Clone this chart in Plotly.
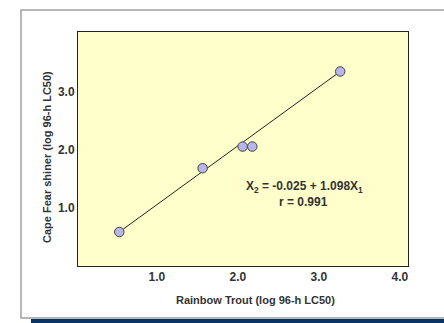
import plotly.graph_objects as go

# Data
trout_x = [0.535, 1.564, 2.058, 2.177, 3.263]
shiner_y = [0.586, 1.684, 2.057, 2.057, 3.35]
fit_x = [0.535, 3.263]
fit_y = [0.586, 3.35]
x_ticks = [1.0, 2.0, 3.0, 4.0]
y_ticks = [1.0, 2.0, 3.0]
x_title = "Rainbow Trout (log 96-h LC50)"
y_title = "Cape Fear shiner (log 96-h LC50)"
eq_text = "X<sub>2</sub> = -0.025 + 1.098X<sub>1</sub>"
r_text = "r = 0.991"

W, H = 444, 323
L, R, T, B = 78, 408, 32, 266
pw, ph = R - L, B - T

def px(x):
    return (x - L) / pw

def py(y):
    return (B - y) / ph

fig = go.Figure()
fig.add_trace(go.Scatter(x=fit_x, y=fit_y, mode="lines",
                         line=dict(color="#222222", width=1), hoverinfo="skip"))
fig.add_trace(go.Scatter(x=trout_x, y=shiner_y, mode="markers",
                         marker=dict(size=9.5, color="#B8B6E6",
                                     line=dict(color="#444444", width=1))))

font = dict(family="Liberation Sans, Arial", color="#333333", size=12)

fig.update_layout(
    width=W, height=H,
    margin=dict(l=L, r=W - R, t=T, b=H - B, pad=0),
    paper_bgcolor="white",
    plot_bgcolor="#FFFFCC",
    showlegend=False,
    font=font,
    xaxis=dict(range=[0.025, 4.1], tickvals=x_ticks,
               ticktext=[f"<b>{v:.1f}</b>" for v in x_ticks],
               showgrid=False, zeroline=False, showline=True, mirror=True,
               linecolor="#222222", linewidth=1, ticks="", ticklen=0,
               tickfont=dict(size=12, color="#333333"), fixedrange=True),
    yaxis=dict(range=[0, 4.03], tickvals=y_ticks,
               ticktext=[f"<b>{v:.1f}</b>" for v in y_ticks],
               showgrid=False, zeroline=False, showline=True, mirror=True,
               linecolor="#222222", linewidth=1, ticks="", ticklen=0,
               tickfont=dict(size=12, color="#333333"), fixedrange=True),
)

# outer frame and navy bar
fig.add_shape(type="rect", xref="paper", yref="paper",
              x0=px(21), x1=px(460), y0=py(318), y1=py(10),
              line=dict(color="#A0A0A0", width=1.5), fillcolor="rgba(0,0,0,0)", layer="below")
fig.add_shape(type="rect", xref="paper", yref="paper",
              x0=px(31), x1=px(460), y0=py(324), y1=py(319),
              line=dict(width=0), fillcolor="#0B3466")

fig.add_annotation(x=px(255), y=py(300), xref="paper", yref="paper",
                   text=f"<b>{x_title}</b>", showarrow=False,
                   font=dict(size=11, color="#333333"), xanchor="center", yanchor="middle")
fig.add_annotation(x=px(47), y=py(157), xref="paper", yref="paper",
                   text=f"<b>{y_title}</b>", showarrow=False, textangle=-90,
                   font=dict(size=11, color="#333333"), xanchor="center", yanchor="middle")
fig.add_annotation(x=px(304), y=py(187), xref="paper", yref="paper",
                   text=f"<b>{eq_text}</b>", showarrow=False,
                   font=dict(size=12, color="#333333"), xanchor="center", yanchor="middle")
fig.add_annotation(x=px(303), y=py(202), xref="paper", yref="paper",
                   text=f"<b>{r_text}</b>", showarrow=False,
                   font=dict(size=12, color="#333333"), xanchor="center", yanchor="middle")

fig.write_html("out.html", config=dict(displayModeBar=False))
